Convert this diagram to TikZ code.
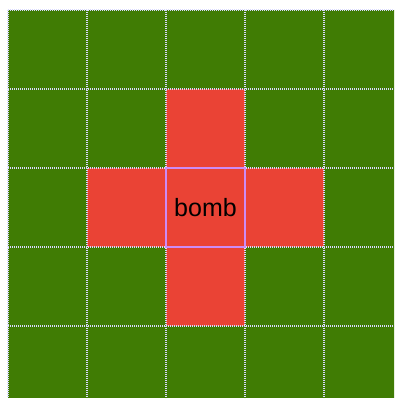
\documentclass[tikz,border=0pt]{standalone}
\usepackage{fontspec}
\setmainfont{Liberation Sans}
\definecolor{fieldgreen}{RGB}{64,124,4}
\definecolor{blastred}{RGB}{234,67,53}
\definecolor{bombviolet}{RGB}{204,140,245}

\begin{document}
\begin{tikzpicture}[x=1pt, y=-1pt,
    cell/.style={fill=fieldgreen, minimum size=79pt, inner sep=0pt, outer sep=0pt, anchor=north west},
    blast/.style={cell, fill=blastred},
    gridline/.style={white!85!blue, line width=1.1pt, dash pattern=on 1pt off 1pt}
  ]
    \useasboundingbox[fill=white] (0,0) rectangle (394,398);
    \clip (0,0) rectangle (394,398);

    % --- field ---
    \foreach \r in {0,...,4}
      \foreach \c in {0,...,4}
        \node[cell] (c\r\c) at ({8+79*\c},{10+79*\r}) {};

    % --- blast cross ---
    \foreach \r/\c in {1/2, 2/1, 2/3, 3/2}
      \node[blast] (b\r\c) at (c\r\c.north west) {};

    % --- grid lines ---
    \foreach \i in {0,...,4} {
      \draw[gridline] (c0\i.north west) -- (c4\i.south west);
      \draw[gridline] (c\i0.north west) -- (c\i4.north east);
    }

    % --- bomb ---
    \node[blast, draw=bombviolet, line width=2.6pt, font=\fontsize{25}{30}\selectfont] (bomb) at (c22.north west) {bomb};
  \end{tikzpicture}
\end{document}
